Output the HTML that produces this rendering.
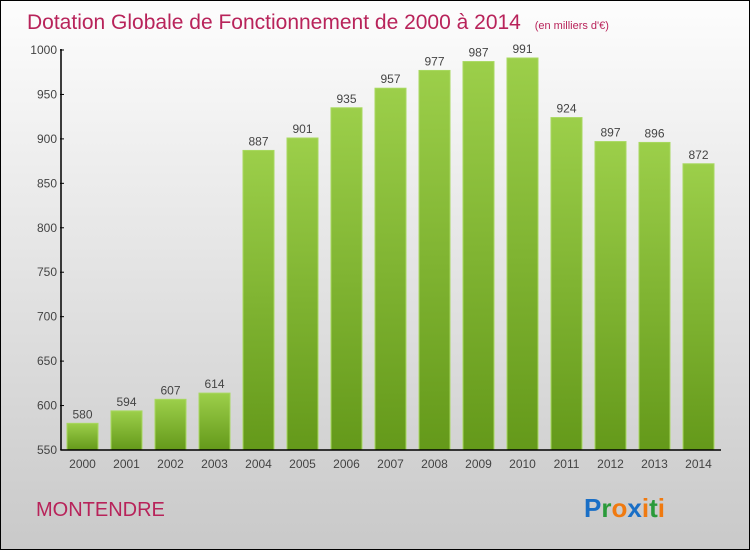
<!DOCTYPE html>
<html><head><meta charset="utf-8"><style>
body{margin:0;}
#c{width:748px;height:548px;border:1px solid #000;background:linear-gradient(#fdfdfd,#c9c9c9);position:relative;font-family:"Liberation Sans",sans-serif;}
svg{position:absolute;left:0;top:0}
</style></head><body>
<div id="c">
<svg id="s" width="748" height="548">
<defs><linearGradient id="g" x1="0" y1="0" x2="0" y2="1"><stop offset="0" stop-color="#9ccf4a"/><stop offset="1" stop-color="#64991a"/></linearGradient></defs>
<text x="26" y="28" font-size="21" fill="#b8235a" font-family="Liberation Sans,sans-serif">Dotation Globale de Fonctionnement de 2000 à 2014 <tspan font-size="11" dx="8">(en milliers d'€)</tspan></text>
<text x="35" y="515" font-size="20" fill="#b8235a">MONTENDRE</text>
<text x="583" y="516" font-size="26" font-family="Liberation Sans,sans-serif" font-weight="bold"><tspan fill="#1a6fc6">P</tspan><tspan fill="#2a9a3a">r</tspan><tspan fill="#f07a10">o</tspan><tspan fill="#1a6fc6">x</tspan><tspan fill="#f07a10">i</tspan><tspan fill="#2a9a3a">t</tspan><tspan fill="#f07a10">i</tspan></text>
<g id="bars"></g>
</svg></div>
<script>
const years=["2000","2001","2002","2003","2004","2005","2006","2007","2008","2009","2010","2011","2012","2013","2014"];
const values=[580,594,607,614,887,901,935,957,977,987,991,924,897,896,872];
const yTicks=[550,600,650,700,750,800,850,900,950,1000];
const NS="http://www.w3.org/2000/svg";
const g=document.getElementById('bars');
const y=v=>449-(v-550)*(400/450);
const x=i=>81+i*44;
function mk(t,a){const e=document.createElementNS(NS,t);for(const k in a)e.setAttribute(k,a[k]);g.appendChild(e);return e;}
yTicks.forEach(v=>{
 const t=mk('text',{x:56,y:y(v)+4,'font-size':12,'text-anchor':'end',fill:'#444'});t.textContent=v;
 
 
 const l=mk('line',{x1:59,x2:63,y1:y(v),y2:y(v),stroke:'#000'});
 
 
});
values.forEach((v,i)=>{
 const r=mk('rect',{x:x(i)-15,y:y(v),width:31,height:y(550)-y(v),fill:'url(#g)',stroke:'#a8d860','stroke-width':1});
 
 
 const t=mk('text',{x:x(i)+0.5,y:y(v)-5,'font-size':12,'text-anchor':'middle',fill:'#444'});t.textContent=v;
 
 
 const xl=mk('text',{x:x(i)+0.5,y:467,'font-size':12,'text-anchor':'middle',fill:'#444'});xl.textContent=years[i];
 
 
});
const ya=mk('line',{x1:60,x2:60,y1:y(1000)-1,y2:y(550),stroke:'#000','stroke-width':1.5});


const xa=mk('line',{x1:60,x2:720,y1:y(550),y2:y(550),stroke:'#000','stroke-width':1.5});


</script>
</body></html>
